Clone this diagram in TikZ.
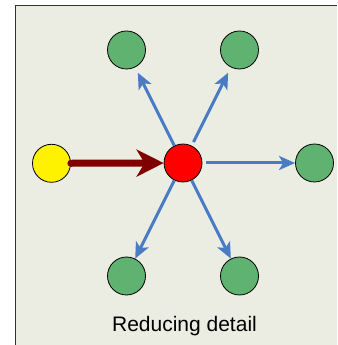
\documentclass[tikz,border=0pt]{standalone}
\usepackage{fontspec}
\setmainfont{Liberation Sans}
\usepackage{tikz}
\usetikzlibrary{arrows.meta}
\definecolor{panel}{HTML}{ECEDE2}
\definecolor{leaf}{HTML}{60B270}
\definecolor{linkblue}{HTML}{4A7CC6}
\definecolor{darkbrown}{HTML}{7F0000}

\begin{document}
\begin{tikzpicture}[x=1pt, y=1pt,
	dot/.style={circle, draw=black, line width=0.8pt, minimum size=38pt, inner sep=0pt},
	link/.style={draw=linkblue, line width=3pt, -{Stealth[length=16pt, width=14pt, inset=4pt]}}]
	\useasboundingbox (0,0) rectangle (337,345);
	\fill[white] (0,0) rectangle (337,345);
	\fill[panel] (15.5,0) rectangle (337,339.5);
	\draw[line width=1.5pt, black!80] (15.5,0) -- (15.5,339.5) -- (337,339.5);

	\node[dot, fill=yellow] (start) at (51.5, 181.7) {};
	\node[dot, fill=red] (hub) at (183, 182) {};
	\node[dot, fill=leaf] (upleft) at (126.5, 295) {};
	\node[dot, fill=leaf] (upright) at (239.5, 295) {};
	\node[dot, fill=leaf] (right) at (314.5, 182) {};
	\node[dot, fill=leaf] (downleft) at (126.5, 69) {};
	\node[dot, fill=leaf] (downright) at (239.5, 69) {};

	\draw[darkbrown, line width=7pt, line cap=round, -{Stealth[length=27pt, width=27pt, inset=8pt]}] (start) -- (hub);
	\draw[link, shorten >=6pt] (hub) -- (upleft);
	\draw[link, shorten <=4pt, shorten >=6pt] (hub) -- (upright);
	\draw[link, shorten <=4pt] (hub) -- (right);
	\draw[link] (hub) -- (downleft);
	\draw[link] (hub) -- (downright);

	\node[anchor=base, font=\fontsize{21}{25}\selectfont] (caption) at (184.5, 13.3) {Reducing detail};
\end{tikzpicture}
\end{document}
